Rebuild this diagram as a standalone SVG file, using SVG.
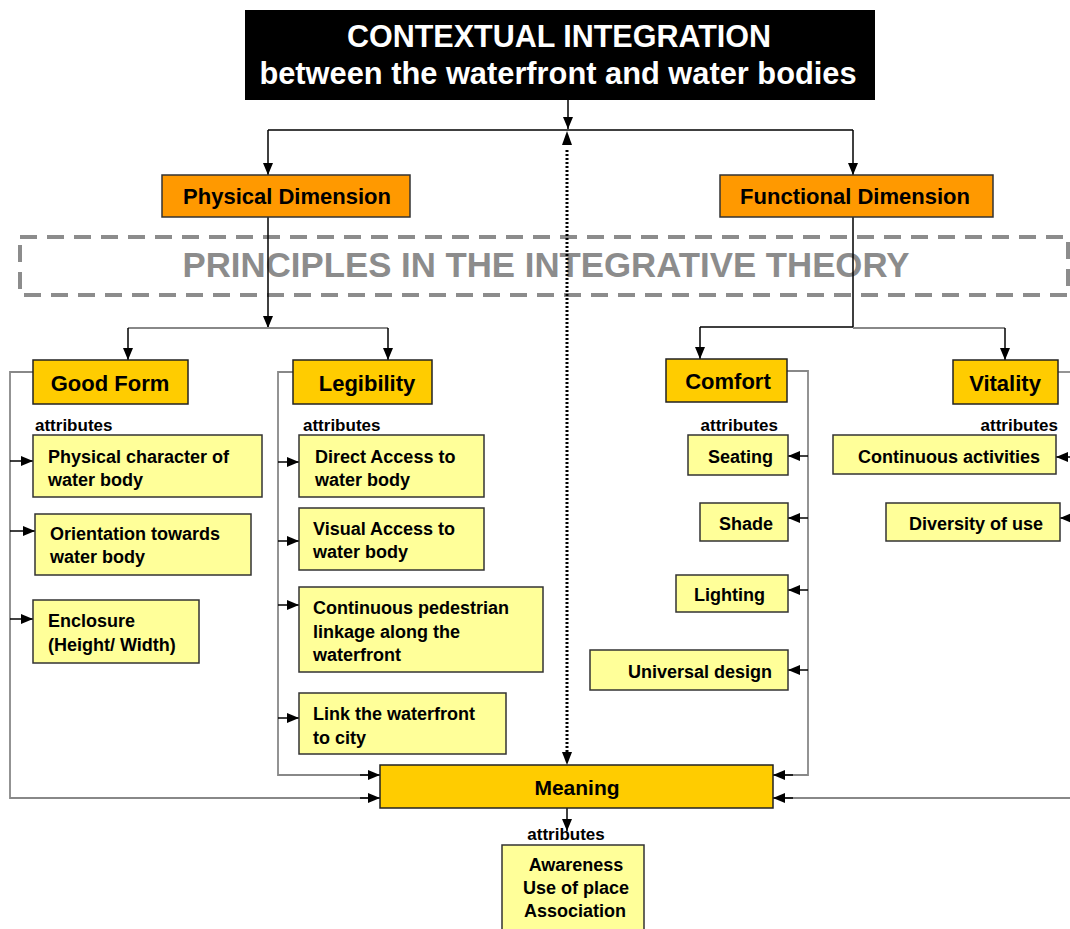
<svg xmlns="http://www.w3.org/2000/svg" width="1070" height="929" viewBox="0 0 1070 929">
<defs>
<marker id="ah" viewBox="0 0 12 10" refX="12" refY="5" markerWidth="12" markerHeight="10" markerUnits="userSpaceOnUse" orient="auto">
<path d="M0,0 L12,5 L0,10 z" fill="#000"/>
</marker>
</defs>
<style>
text{font-family:"Liberation Sans",Arial,sans-serif;font-weight:bold;fill:#000}
.dim{fill:#FF9900;stroke:#333;stroke-width:1.5}
.prin{fill:#FFCC00;stroke:#222;stroke-width:1.5}
.att{fill:#FFFF99;stroke:#333;stroke-width:1.5}
.lbl{font-size:22px}
.at{font-size:18px}
.atl{font-size:17px}
.blk{fill:none;stroke:#000;stroke-width:1.5}
.gry{fill:none;stroke:#888;stroke-width:1.8}
.ar{marker-end:url(#ah)}
</style>
<rect x="0" y="0" width="1070" height="929" fill="#fff"/>

<g id="dashed-frame">
<rect x="20" y="237" width="1048" height="58" fill="none" stroke="#8c8c8c" stroke-width="4" stroke-dasharray="17 10"/>
<text x="546" y="277" font-size="34.8" text-anchor="middle" style="fill:#8c8c8c">PRINCIPLES IN THE INTEGRATIVE THEORY</text>
</g>

<g id="connectors">
<line class="blk ar" x1="568" y1="100" x2="568" y2="129"/>
<polyline class="blk" points="268,130 853,130"/>
<line class="blk ar" x1="268" y1="130" x2="268" y2="175"/>
<line class="blk ar" x1="853" y1="130" x2="853" y2="175"/>
<line x1="567" y1="150" x2="567" y2="756" stroke="#000" stroke-width="3" stroke-dasharray="2 2"/>
<path d="M567,131 L562,145 L572,145 z" fill="#000"/>
<path d="M567,765 L562,752 L572,752 z" fill="#000"/>
<line class="blk ar" x1="268" y1="217" x2="268" y2="328"/>
<polyline class="gry" points="128,328 388,328"/>
<line class="blk ar" x1="128" y1="328" x2="128" y2="360"/>
<line class="blk ar" x1="388" y1="328" x2="388" y2="360"/>
<polyline class="blk" points="853,217 853,327 700,327"/>
<line class="blk ar" x1="700" y1="327" x2="700" y2="359"/>
<polyline class="gry" points="853,328 1005,328"/>
<line class="blk ar" x1="1005" y1="328" x2="1005" y2="360"/>

<polyline class="gry" points="33,372 10,372 10,798 372,798"/>
<line class="blk ar" x1="360" y1="798" x2="380" y2="798"/>
<line class="blk ar" x1="10" y1="461" x2="33" y2="461"/>
<line class="blk ar" x1="10" y1="531" x2="35" y2="531"/>
<line class="blk ar" x1="10" y1="619" x2="33" y2="619"/>

<polyline class="gry" points="293,372 278,372 278,775 372,775"/>
<line class="blk ar" x1="360" y1="775" x2="380" y2="775"/>
<line class="blk ar" x1="278" y1="462" x2="299" y2="462"/>
<line class="blk ar" x1="278" y1="541" x2="299" y2="541"/>
<line class="blk ar" x1="278" y1="605" x2="299" y2="605"/>
<line class="blk ar" x1="278" y1="718" x2="299" y2="718"/>

<polyline class="gry" points="787,371 808,371 808,775 781,775"/>
<line class="blk ar" x1="793" y1="775" x2="773" y2="775"/>
<line class="blk ar" x1="808" y1="456" x2="788" y2="456"/>
<line class="blk ar" x1="808" y1="518" x2="788" y2="518"/>
<line class="blk ar" x1="808" y1="590" x2="788" y2="590"/>
<line class="blk ar" x1="808" y1="670" x2="788" y2="670"/>

<polyline class="gry" points="1058,372 1072,372"/>
<polyline class="gry" points="1072,798 781,798"/>
<line class="blk ar" x1="793" y1="798" x2="773" y2="798"/>
<line class="blk ar" x1="1072" y1="457" x2="1056" y2="457"/>
<line class="blk ar" x1="1074" y1="518" x2="1060" y2="518"/>

<line class="blk ar" x1="567" y1="808" x2="567" y2="831"/>
</g>

<g id="title">
<rect x="245" y="10" width="630" height="90" fill="#000"/>
<text x="559" y="47" font-size="30.5" text-anchor="middle" style="fill:#fff">CONTEXTUAL INTEGRATION</text>
<text x="558" y="84" font-size="30.8" text-anchor="middle" style="fill:#fff">between the waterfront and water bodies</text>
</g>

<g id="physical-dimension">
<rect class="dim" x="162" y="175" width="248" height="42"/>
<text class="lbl" x="287" y="204" text-anchor="middle">Physical Dimension</text>
</g>
<g id="functional-dimension">
<rect class="dim" x="720" y="175" width="273" height="42"/>
<text class="lbl" x="855" y="204" text-anchor="middle">Functional Dimension</text>
</g>

<g id="good-form">
<rect class="prin" x="33" y="360" width="155" height="44"/>
<text class="lbl" x="110" y="391" text-anchor="middle">Good Form</text>
</g>
<g id="legibility">
<rect class="prin" x="293" y="360" width="139" height="44"/>
<text class="lbl" x="367" y="391" text-anchor="middle">Legibility</text>
</g>
<g id="comfort">
<rect class="prin" x="666" y="359" width="121" height="43"/>
<text class="lbl" x="728" y="389" text-anchor="middle">Comfort</text>
</g>
<g id="vitality">
<rect class="prin" x="953" y="360" width="105" height="44"/>
<text class="lbl" x="1005" y="391" text-anchor="middle">Vitality</text>
</g>
<g id="meaning">
<rect class="prin" x="380" y="765" width="393" height="43"/>
<text x="577" y="795" font-size="21" text-anchor="middle">Meaning</text>
</g>

<g id="attr-labels">
<text class="atl" x="35" y="431">attributes</text>
<text class="atl" x="303" y="431">attributes</text>
<text class="atl" x="778" y="431" text-anchor="end">attributes</text>
<text class="atl" x="1058" y="431" text-anchor="end">attributes</text>
<text class="atl" x="566" y="840" text-anchor="middle">attributes</text>
</g>

<g id="physical-character">
<rect class="att" x="33" y="435" width="229" height="62"/>
<text class="at" x="48" y="463">Physical character of</text>
<text class="at" x="48" y="486">water body</text>
</g>
<g id="orientation">
<rect class="att" x="35" y="514" width="216" height="61"/>
<text class="at" x="50" y="540">Orientation towards</text>
<text class="at" x="50" y="563">water body</text>
</g>
<g id="enclosure">
<rect class="att" x="33" y="600" width="166" height="63"/>
<text class="at" x="48" y="627">Enclosure</text>
<text class="at" x="48" y="651">(Height/ Width)</text>
</g>

<g id="direct-access">
<rect class="att" x="299" y="435" width="185" height="62"/>
<text class="at" x="315" y="463">Direct Access to</text>
<text class="at" x="315" y="486">water body</text>
</g>
<g id="visual-access">
<rect class="att" x="299" y="508" width="185" height="62"/>
<text class="at" x="313" y="535">Visual Access to</text>
<text class="at" x="313" y="558">water body</text>
</g>
<g id="pedestrian-linkage">
<rect class="att" x="299" y="587" width="244" height="85"/>
<text class="at" x="313" y="614">Continuous pedestrian</text>
<text class="at" x="313" y="638">linkage along the</text>
<text class="at" x="313" y="661">waterfront</text>
</g>
<g id="link-city">
<rect class="att" x="299" y="693" width="207" height="61"/>
<text class="at" x="313" y="720">Link the waterfront</text>
<text class="at" x="313" y="744">to city</text>
</g>

<g id="seating">
<rect class="att" x="688" y="435" width="100" height="40"/>
<text class="at" x="773" y="463" text-anchor="end">Seating</text>
</g>
<g id="shade">
<rect class="att" x="700" y="503" width="88" height="38"/>
<text class="at" x="773" y="530" text-anchor="end">Shade</text>
</g>
<g id="lighting">
<rect class="att" x="676" y="575" width="112" height="37"/>
<text class="at" x="765" y="601" text-anchor="end">Lighting</text>
</g>
<g id="universal-design">
<rect class="att" x="590" y="650" width="198" height="40"/>
<text class="at" x="772" y="678" text-anchor="end">Universal design</text>
</g>

<g id="continuous-activities">
<rect class="att" x="833" y="435" width="223" height="39"/>
<text class="at" x="1040" y="463" text-anchor="end">Continuous activities</text>
</g>
<g id="diversity-of-use">
<rect class="att" x="886" y="503" width="174" height="38"/>
<text class="at" x="1043" y="530" text-anchor="end">Diversity of use</text>
</g>

<g id="meaning-attributes">
<rect class="att" x="502" y="845" width="142" height="90"/>
<text class="at" x="576" y="871" text-anchor="middle">Awareness</text>
<text class="at" x="576" y="894" text-anchor="middle">Use of place</text>
<text class="at" x="575" y="917" text-anchor="middle">Association</text>
</g>
</svg>
